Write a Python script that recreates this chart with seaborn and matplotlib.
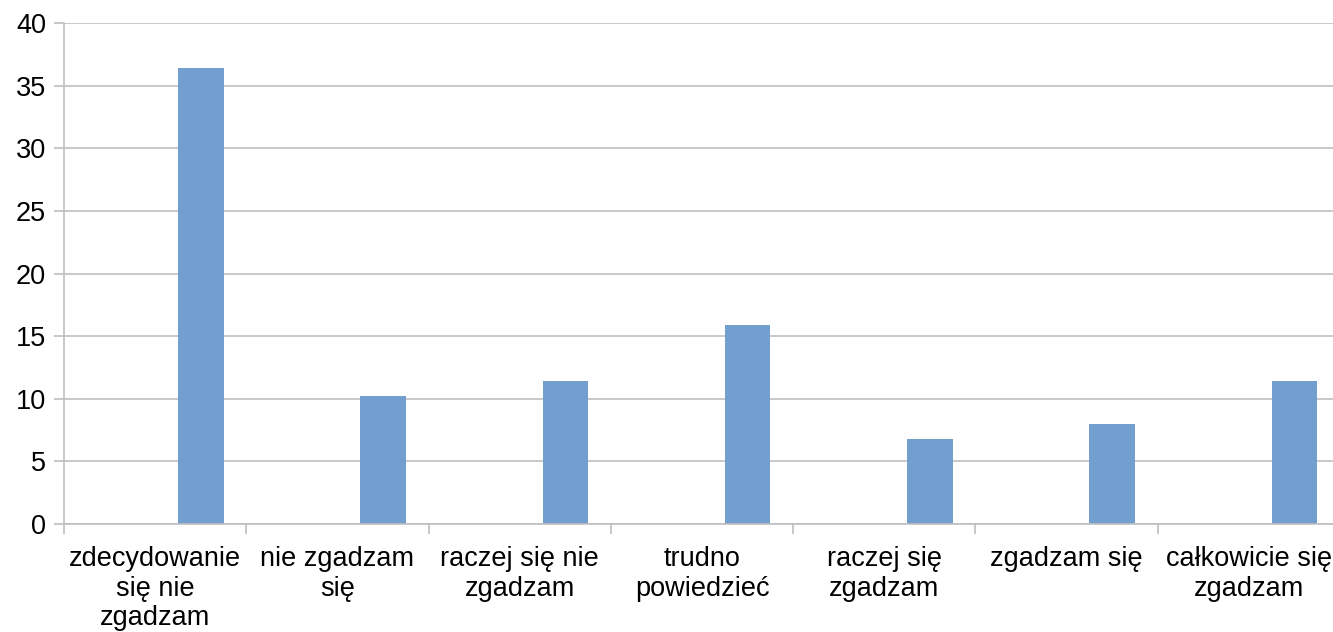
import numpy as np
import pandas as pd
import matplotlib
matplotlib.use("Agg")
import matplotlib.pyplot as plt
import seaborn as sns

categories = [
    "zdecydowanie\nsię nie\nzgadzam",
    "nie zgadzam\nsię",
    "raczej się nie\nzgadzam",
    "trudno\npowiedzieć",
    "raczej się\nzgadzam",
    "zgadzam się",
    "całkowicie się\nzgadzam",
]
series_names = ["Seria 1", "Seria 2"]
series1 = [0, 0, 0, 0, 0, 0, 0]
series2 = [36.4, 10.2, 11.4, 15.9, 6.8, 8.0, 11.4]
y_ticks = [0, 5, 10, 15, 20, 25, 30, 35, 40]

df = pd.DataFrame({
    "kategoria": categories * 2,
    "seria": [series_names[0]] * len(categories) + [series_names[1]] * len(categories),
    "wartosc": series1 + series2,
})

sns.set_theme(style="white")
plt.rcParams["font.family"] = ["Liberation Sans", "DejaVu Sans"]

fig = plt.figure(figsize=(13.33, 6.32), dpi=100)
# plot area runs slightly past the right edge of the canvas
ax = fig.add_axes([64 / 1333, 1 - 524 / 632, (1340 - 64) / 1333, (524 - 23) / 632])

sns.barplot(
    data=df, x="kategoria", y="wartosc", hue="seria",
    order=categories, hue_order=series_names,
    palette=["#739fd0", "#739fd0"], width=1.0, gap=0.5,
    linewidth=0, saturation=1, legend=False, ax=ax, errorbar=None,
)

ax.set_xlim(-0.5, len(categories) - 0.5)
ax.set_ylim(0, 40)
ax.set_yticks(y_ticks)
ax.set_xlabel("")
ax.set_ylabel("")

grid_c = "#bfbfbf"
ax.yaxis.grid(True, color=grid_c, linewidth=1.2)
ax.set_axisbelow(True)
for side in ["top", "right"]:
    ax.spines[side].set_visible(False)
for side in ["left", "bottom"]:
    ax.spines[side].set_color(grid_c)
    ax.spines[side].set_linewidth(1.2)

ax.set_xticks(np.arange(len(categories)))
ax.set_xticklabels(categories, fontsize=19.5, color="black", linespacing=1.17,
                   va="top", ha="center")
ax.set_xticks(np.arange(-0.5, len(categories), 1.0), minor=True)
ax.tick_params(axis="x", which="major", length=0, pad=16)
ax.tick_params(axis="x", which="minor", length=7, width=1.2, color=grid_c,
               direction="out", bottom=True)
ax.tick_params(axis="y", which="major", length=7, width=1.2, color=grid_c,
               direction="out", left=True, labelsize=19.5, labelcolor="black", pad=6)

fig.savefig("out.png", dpi=100)
